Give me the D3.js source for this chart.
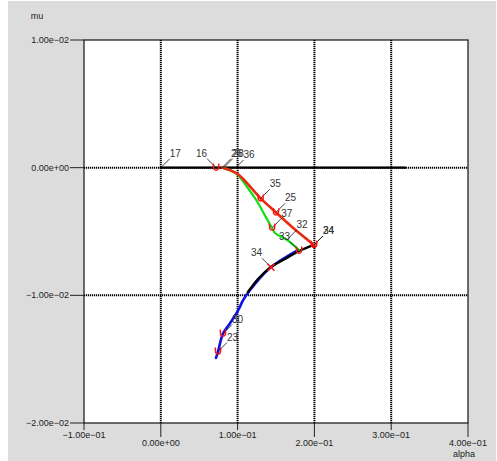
<!DOCTYPE html>
<html>
<head>
<meta charset="utf-8">
<script src="https://cdn.jsdelivr.net/npm/d3@7"></script>
<style>
  html, body { margin: 0; padding: 0; background: #fff; }
  svg { display: block; }
  text { font-family: "Liberation Sans", Arial, Helvetica, sans-serif; }
</style>
</head>
<body>
<svg id="chart" width="497" height="461"></svg>
<script>
// Axis ticks
const xTicks = [-0.1, 0, 0.1, 0.2, 0.3, 0.4];
const yTicks = [0.01, 0, -0.01, -0.02];
const xGrid = [0, 0.1, 0.2, 0.3];
const yGrid = [0, -0.01];

// Branches (alpha, mu)
const zeroBranch = [[0, 0], [0.318, 0]];
const redBranch = [[0.080, 0], [0.099, -0.00045], [0.130, -0.0024], [0.150, -0.0035], [0.172, -0.0047], [0.1995, -0.00605]];
const greenBranch = [[0.080, 0], [0.0985, -0.00048], [0.114, -0.00165], [0.1255, -0.00265], [0.1375, -0.00395], [0.1448, -0.00472], [0.1487, -0.00512], [0.1643, -0.00566], [0.180, -0.00645]];
const blueBranch = [[0.1786, -0.00645], [0.142, -0.00786], [0.116, -0.0096], [0.107, -0.0104], [0.1005, -0.0112], [0.090, -0.0122], [0.081, -0.0130], [0.0745, -0.0144], [0.0719, -0.0149]];
const blackBranch = [[0.1995, -0.00605], [0.180, -0.00653], [0.1617, -0.00715], [0.1435, -0.00778], [0.1266, -0.00872], [0.1135, -0.00974]];

// Labelled points
const pointNames  = ["17", "16", "26", "28", "36", "35", "25", "37", "32", "24", "34", "33", "34", "30", "23"];
const pointAlpha  = [0, 0.072, 0.0797, 0.082, 0.096, 0.130, 0.150, 0.145, 0.165, 0.1995, 0.1995, 0.180, 0.1435, 0.081, 0.0745];
const pointMu     = [0, 0, 0, 0, -0.0001, -0.0024, -0.0035, -0.0047, -0.0056, -0.00605, -0.00605, -0.0065, -0.0078, -0.0130, -0.0144];
const pointMarker = ["", "U", "", "", "", "U", "U", "U", "", "U", "U", "U", "X", "U", "U"];
const leftLabelled = [1, 11, 12];

const svg = d3.select("#chart");
const L = 84, R = 468, T = 40, B = 423;

const x = d3.scaleLinear().domain([-0.1, 0.4]).range([L, R]);
const y = d3.scaleLinear().domain([-0.02, 0.01]).range([B, T]);

function fmt(v) {
  const s = v.toExponential(2);
  const [m, e] = s.split("e");
  const sign = e[0] === "-" ? "\u2212" : "+";
  const digits = e.replace(/^[+-]/, "").padStart(2, "0");
  return m.replace("-", "\u2212") + "e" + sign + digits;
}

// Background panel
svg.append("rect").attr("x", 8).attr("y", 1).attr("width", 488).attr("height", 460).attr("fill", "#dcdcdc");
svg.append("rect").attr("x", L).attr("y", T).attr("width", R - L).attr("height", B - T).attr("fill", "#fff");

// Grid
const grid = svg.append("g").attr("stroke", "#000").attr("stroke-width", 2).attr("stroke-dasharray", "1.2,0.8");
grid.selectAll(".gx").data(xGrid).join("line")
  .attr("x1", d => x(d)).attr("x2", d => x(d)).attr("y1", T).attr("y2", B);
grid.selectAll(".gy").data(yGrid).join("line")
  .attr("x1", L).attr("x2", R).attr("y1", d => y(d)).attr("y2", d => y(d));

// Frame
svg.append("rect").attr("x", L).attr("y", T).attr("width", R - L).attr("height", B - T)
  .attr("fill", "none").attr("stroke", "#111").attr("stroke-width", 1.2);

// Y axis
const yAx = svg.append("g");
yAx.selectAll("line").data(yTicks).join("line")
  .attr("x1", 70).attr("x2", L).attr("y1", d => y(d)).attr("y2", d => y(d))
  .attr("stroke", "#222").attr("stroke-width", 1);
yAx.selectAll("text").data(yTicks).join("text")
  .attr("x", 69).attr("y", d => y(d)).attr("dy", "0.35em")
  .attr("text-anchor", "end").attr("font-size", 9).attr("fill", "#222")
  .text(fmt);
svg.append("text").attr("x", 37).attr("y", 19).attr("text-anchor", "middle")
  .attr("font-size", 9).attr("fill", "#222").text("mu");

// X axis (staggered labels)
const xAx = svg.append("g");
xAx.selectAll("line").data(xTicks).join("line")
  .attr("x1", d => x(d)).attr("x2", d => x(d)).attr("y1", B)
  .attr("y2", (d, i) => i % 2 ? 437 : 430)
  .attr("stroke", "#222").attr("stroke-width", 1);
xAx.selectAll("text").data(xTicks).join("text")
  .attr("x", d => x(d)).attr("y", (d, i) => i % 2 ? 443 : 435).attr("dy", "0.35em")
  .attr("text-anchor", "middle").attr("font-size", 9).attr("fill", "#222")
  .text(fmt);
svg.append("text").attr("x", 475).attr("y", 454).attr("dy", "0.35em").attr("text-anchor", "end")
  .attr("font-size", 9).attr("fill", "#222").text("alpha");

// Branches
const smooth = d3.line().x(d => x(d[0])).y(d => y(d[1])).curve(d3.curveCatmullRom.alpha(0.5));
const branches = [
  [zeroBranch, "#000", 2.4],
  [blueBranch, "#1010e8", 2.6],
  [blackBranch, "#000", 2.4],
  [greenBranch, "#10e010", 2.2],
  [redBranch, "#e82a10", 2.6]
];
branches.forEach(([data, color, w]) => {
  svg.append("path").datum(data).attr("d", smooth)
    .attr("fill", "none").attr("stroke", color).attr("stroke-width", w)
    .attr("stroke-linejoin", "round").attr("stroke-linecap", "round");
});

// Points, leaders and labels
const pts = pointNames.map((n, i) => ({
  name: n, a: pointAlpha[i], m: pointMu[i], mk: pointMarker[i], left: leftLabelled.includes(i)
}));

const lab = svg.append("g");
pts.forEach(p => {
  const px = x(p.a), py = y(p.m);
  const s = p.left ? -1 : 1;
  lab.append("line")
    .attr("x1", px).attr("y1", py).attr("x2", px + s * 9).attr("y2", py - 9)
    .attr("stroke", "#111").attr("stroke-width", 0.8);
  lab.append("text")
    .attr("x", px + s * 9).attr("y", py - 11)
    .attr("text-anchor", p.left ? "end" : "start")
    .attr("font-size", 10).attr("fill", "#333").text(p.name);
});

const mk = svg.append("g").attr("fill", "none").attr("stroke", "#ff1010").attr("stroke-width", 1.5);
pts.filter(p => p.mk === "U").forEach(p => {
  mk.append("path")
    .attr("transform", `translate(${x(p.a)},${y(p.m)})`)
    .attr("d", "M-2.8,-4 L-2.3,1.2 Q0,4.2 2.3,1.2 L2.8,-4");
});
pts.filter(p => p.mk === "X").forEach(p => {
  mk.append("path")
    .attr("transform", `translate(${x(p.a)},${y(p.m)})`)
    .attr("d", "M-3.5,-3.5 L3.5,3.5 M-3.5,3.5 L3.5,-3.5");
});
</script>
</body>
</html>
